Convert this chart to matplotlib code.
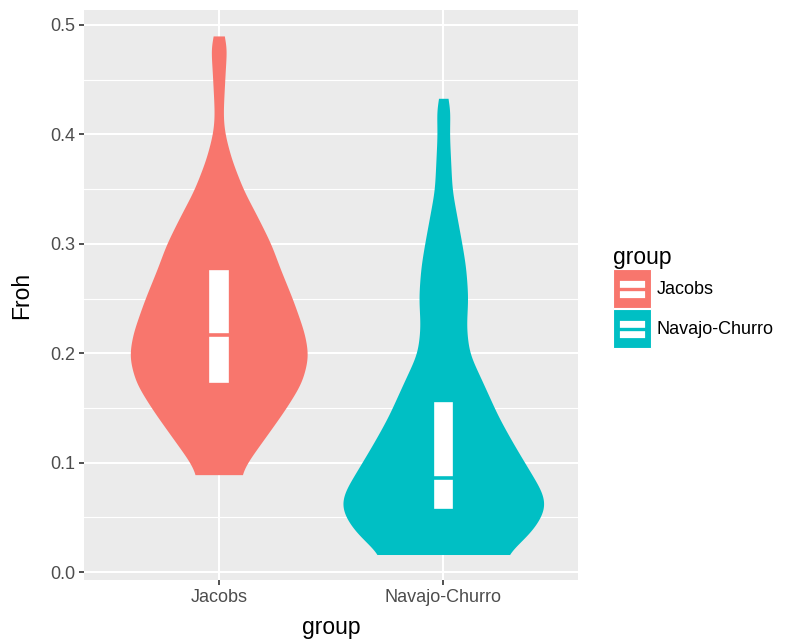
import numpy as np
import matplotlib.pyplot as plt
from matplotlib.patches import Rectangle, Patch
from matplotlib.lines import Line2D
from matplotlib.legend_handler import HandlerBase

plt.rcParams['font.family'] = ['Liberation Sans', 'DejaVu Sans']

groups = ['Jacobs', 'Navajo-Churro']
colors = ['#F8766D', '#00BFC4']

# violin outlines: Froh level and half-width of the density at that level
jacobs_froh = [0.089, 0.100, 0.121, 0.148, 0.173, 0.197, 0.218, 0.249, 0.279,
               0.299, 0.325, 0.349, 0.377, 0.401, 0.416, 0.431, 0.462, 0.480,
               0.487, 0.490]
jacobs_half = [0.097, 0.126, 0.200, 0.294, 0.370, 0.400, 0.383, 0.330, 0.270,
               0.235, 0.172, 0.110, 0.057, 0.026, 0.019, 0.022, 0.030, 0.036,
               0.033, 0.018]
navajo_froh = [0.016, 0.027, 0.041, 0.059, 0.072, 0.093, 0.118, 0.142, 0.176,
               0.200, 0.224, 0.251, 0.279, 0.300, 0.349, 0.401, 0.425, 0.430,
               0.433]
navajo_half = [0.275, 0.345, 0.410, 0.458, 0.445, 0.383, 0.310, 0.245, 0.170,
               0.115, 0.102, 0.110, 0.100, 0.083, 0.039, 0.027, 0.031, 0.028,
               0.015]

# boxplot summaries
box_q1 = [0.172, 0.057]
box_med = [0.217, 0.086]
box_q3 = [0.278, 0.157]


def smooth_profile(ys, ws, n=500, sigma=10):
    yf = np.linspace(ys[0], ys[-1], n)
    wf = np.interp(yf, ys, ws)
    k = np.arange(-3 * sigma, 3 * sigma + 1)
    kern = np.exp(-0.5 * (k / sigma) ** 2)
    kern /= kern.sum()
    padded = np.pad(wf, 3 * sigma, mode='edge')
    return yf, np.convolve(padded, kern, mode='valid')


class BoxKey(HandlerBase):
    def create_artists(self, legend, orig_handle, xd, yd, width, height,
                       fontsize, trans):
        c = orig_handle.get_facecolor()
        bg = Rectangle((-xd, -yd), width, height, facecolor=c,
                       edgecolor='white', lw=0.8, transform=trans)
        box = Rectangle((-xd + 0.14 * width, -yd + 0.25 * height),
                        0.72 * width, 0.5 * height, facecolor='white',
                        edgecolor=c, lw=2.0, transform=trans)
        med = Line2D([-xd + 0.14 * width, -xd + 0.86 * width],
                     [-yd + 0.5 * height] * 2, color=c, lw=2.4,
                     transform=trans)
        return [bg, box, med]


fig = plt.figure(figsize=(7.96, 6.41), dpi=100)
ax = fig.add_axes([84 / 796, 1 - 580 / 641, 494 / 796, 570 / 641])
ax.set_facecolor('#EBEBEB')

profiles = [(jacobs_froh, jacobs_half), (navajo_froh, navajo_half)]
for i, (ys, ws) in enumerate(profiles):
    pos = i + 1
    yf, wf = smooth_profile(ys, ws)
    ax.fill_betweenx(yf, pos - wf, pos + wf, color=colors[i], lw=0, zorder=3)
    ax.add_patch(Rectangle((pos - 0.05, box_q1[i]), 0.1,
                           box_q3[i] - box_q1[i], facecolor='white',
                           edgecolor=colors[i], lw=2.4, zorder=4))
    ax.plot([pos - 0.05, pos + 0.05], [box_med[i]] * 2, color=colors[i],
            lw=2.6, zorder=5, solid_capstyle='butt')

ax.set_xlim(0.4, 2.6)
ax.set_ylim(-0.0073, 0.5137)
ax.set_xticks([1, 2])
ax.set_xticklabels(groups)
ax.set_yticks([0.0, 0.1, 0.2, 0.3, 0.4, 0.5])
ax.set_yticklabels(['0.0', '0.1', '0.2', '0.3', '0.4', '0.5'])
ax.set_yticks([0.05, 0.15, 0.25, 0.35, 0.45], minor=True)
ax.grid(which='major', color='white', lw=1.5, zorder=0)
ax.grid(which='minor', axis='y', color='white', lw=0.8, zorder=0)
ax.set_axisbelow(True)
for s in ax.spines.values():
    s.set_visible(False)
ax.tick_params(which='major', length=3.5, width=1.2, color='#333333',
               labelcolor='#4D4D4D', labelsize=13, pad=3)
ax.tick_params(which='minor', length=0)

ax.set_xlabel('group', fontsize=16.5, labelpad=7)
ax.set_ylabel('Froh', fontsize=16.5, labelpad=12)

handles = [Patch(facecolor=c) for c in colors]
leg = fig.legend(handles, groups, title='group', loc='center left',
                 bbox_to_anchor=(613 / 796, 1 - 297 / 641), frameon=False,
                 fontsize=13, title_fontsize=16.5, alignment='left',
                 handler_map={Patch: BoxKey()}, handlelength=2.1,
                 handleheight=2.95, handletextpad=0.3, labelspacing=0.05,
                 borderpad=0, borderaxespad=0)

fig.savefig('out.png', dpi=100)
